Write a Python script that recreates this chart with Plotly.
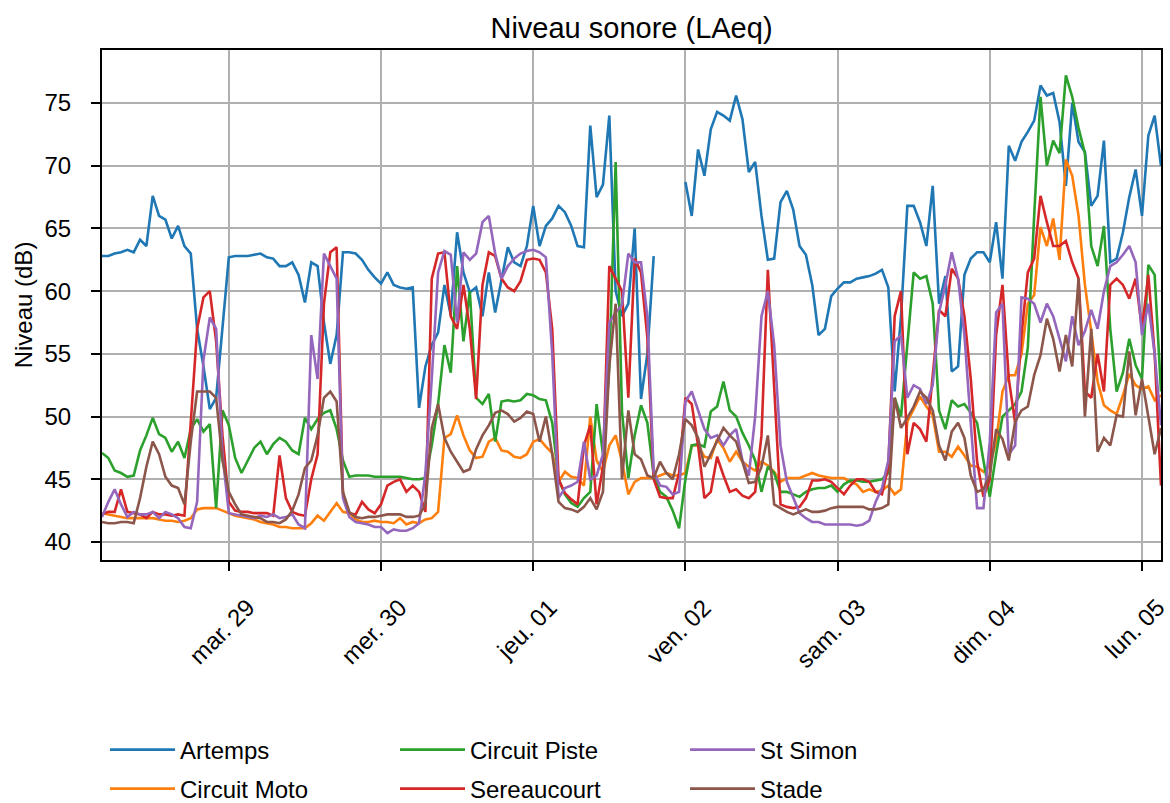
import pandas as pd
import plotly.graph_objects as go

# ---------------- data (hourly LAeq, dB) ----------------
START = "2020-09-28 04:00"
N_HOURS = 168

ARTEMPS = [
    62.8, 62.8, 63.0, 63.1, 63.3, 63.1, 64.1, 63.6, 67.6, 66.0, 65.7, 64.2, 65.2, 63.6, 63.0, 57.0, 54.0, 50.6, 51.5, 57.0, 62.7, 62.8, 62.8, 62.8,
    62.9, 63.0, 62.7, 62.6, 62.0, 62.0, 62.3, 61.3, 59.1, 62.3, 62.0, 57.5, 54.2, 56.5, 63.1, 63.1, 63.0, 62.5, 61.7, 61.1, 60.6, 61.5, 60.5, 60.3,
    60.2, 60.3, 50.7, 54.0, 55.7, 56.7, 60.5, 58.1, 64.7, 61.5, 59.9, 60.3, 58.0, 61.5, 58.3, 61.0, 63.5, 62.3, 62.0, 63.6, 66.8, 63.6, 65.2, 65.8,
    66.8, 66.3, 65.2, 63.6, 63.5, 73.2, 67.5, 68.5, 74.0, 60.0, 58.0, 59.0, 65.0, 51.4, 55.0, 62.8, None, None, None, None, 68.7, 66.0, 71.3, 69.2,
    72.9, 74.3, 74.0, 73.6, 75.6, 73.7, 69.5, 70.3, 66.0, 62.5, 62.6, 67.1, 68.0, 66.5, 63.6, 62.9, 60.5, 56.5, 57.0, 59.6, 60.2, 60.7, 60.7, 61.0,
    61.1, 61.2, 61.4, 61.7, 60.3, 52.0, 58.0, 66.8, 66.8, 65.5, 63.6, 68.4, 59.0, 61.2, 53.6, 54.0, 61.3, 62.6, 63.1, 63.1, 62.3, 65.5, 61.0, 71.6,
    70.4, 71.9, 72.7, 73.6, 76.4, 75.6, 75.8, 73.5, 68.4, 75.0, 71.9, 71.1, 66.8, 67.6, 72.0, 62.3, 62.6, 64.7, 67.5, 69.7, 66.0, 72.4, 74.0, 70.0,
]

CIRCUIT_MOTO = [
    42.3, 42.2, 42.1, 42.0, 41.9, 41.9, 41.9, 41.9, 41.9, 41.8, 41.7, 41.7, 41.6, 41.7, 41.9, 42.6, 42.7, 42.7, 42.7, 42.5, 42.3, 42.1, 42.0, 41.9,
    41.8, 41.6, 41.5, 41.4, 41.2, 41.2, 41.1, 41.1, 41.1, 41.5, 42.1, 41.7, 42.4, 43.1, 42.4, 42.3, 41.8, 41.6, 41.6, 41.7, 41.6, 41.6, 41.5, 41.9,
    41.4, 41.6, 41.5, 41.8, 41.9, 42.4, 48.3, 48.6, 50.1, 48.5, 47.3, 46.7, 46.8, 48.0, 48.3, 47.3, 47.2, 46.8, 46.7, 47.0, 48.0, 48.2, 47.6, 47.1,
    44.8, 45.6, 45.2, 45.1, 44.5, 50.0, 46.5, 45.6, 47.7, 48.5, 46.4, 43.8, 44.8, 45.1, 45.1, 45.1, 45.3, 45.5, 45.3, 45.3, 45.5, 47.7, 47.7, 46.8,
    46.7, 48.2, 47.5, 46.4, 47.2, 46.4, 46.0, 45.7, 46.4, 46.1, 45.6, 44.8, 45.1, 45.1, 45.1, 45.3, 45.5, 45.3, 45.2, 45.1, 45.1, 45.1, 44.8, 44.6,
    44.0, 44.2, 44.0, 44.1, 44.5, 43.8, 44.2, 49.6, 50.6, 51.6, 50.8, 50.1, 47.2, 47.2, 46.8, 47.6, 46.9, 46.1, 46.0, 45.6, 46.1, 48.0, 52.0, 53.3,
    53.3, 55.0, 59.0, 59.7, 65.1, 63.6, 65.8, 62.5, 70.5, 69.2, 66.0, 60.5, 56.8, 52.8, 50.9, 50.5, 50.2, 51.7, 53.4, 52.5, 52.2, 52.4, 51.3, 51.7,
]

CIRCUIT_PISTE = [
    47.1, 46.7, 45.7, 45.5, 45.2, 45.3, 47.3, 48.5, 49.9, 48.6, 48.3, 47.2, 48.0, 46.7, 49.0, 49.8, 48.8, 49.4, 42.7, 50.5, 49.3, 46.7, 45.5, 46.5,
    47.5, 48.0, 47.0, 47.8, 48.3, 48.0, 47.3, 47.0, 49.9, 49.0, 49.8, 50.3, 50.5, 49.0, 46.5, 45.2, 45.3, 45.3, 45.3, 45.2, 45.2, 45.2, 45.2, 45.2,
    45.1, 45.0, 45.0, 45.1, 47.7, 51.0, 55.7, 53.5, 62.0, 56.0, 60.0, 51.5, 51.0, 51.8, 48.0, 51.2, 51.3, 51.2, 51.3, 51.8, 51.7, 51.4, 51.3, 49.5,
    45.0, 43.8, 43.1, 42.8, 43.5, 44.0, 51.0, 47.0, 54.0, 70.3, 50.4, 45.1, 48.5, 50.9, 49.5, 45.3, 44.0, 43.6, 42.5, 41.1, 45.0, 47.7, 47.8, 47.6,
    50.4, 50.8, 52.8, 50.5, 50.0, 48.7, 47.7, 46.5, 44.0, 46.0, 45.5, 44.0, 44.0, 43.8, 43.6, 44.0, 44.2, 44.3, 44.3, 44.5, 44.0, 44.6, 44.9, 44.9,
    44.8, 44.8, 44.9, 45.0, 45.5, 51.5, 50.0, 56.0, 61.5, 61.0, 61.2, 59.0, 50.5, 49.0, 51.3, 50.8, 51.0, 50.3, 49.5, 46.5, 43.6, 47.0, 50.0, 50.5,
    51.0, 52.0, 55.5, 66.0, 75.5, 70.0, 72.0, 71.0, 77.2, 75.5, 73.0, 71.0, 63.6, 62.0, 65.2, 57.0, 52.0, 53.5, 56.2, 54.1, 53.0, 62.1, 61.3, 52.0,
]

SEREAUCOURT = [
    42.2, 42.4, 42.4, 44.2, 42.4, 42.3, 42.2, 41.9, 42.4, 42.2, 42.2, 42.1, 42.2, 42.1, 50.0, 57.0, 59.5, 60.0, 56.0, 48.5, 43.2, 42.5, 42.4, 42.4,
    42.3, 42.3, 42.3, 42.1, 46.9, 43.5, 42.4, 42.2, 42.1, 45.0, 47.0, 59.0, 63.1, 63.5, 43.8, 42.3, 42.2, 43.2, 42.6, 42.3, 43.0, 44.5, 44.8, 45.0,
    44.0, 44.5, 44.0, 42.4, 61.0, 63.0, 63.1, 58.0, 57.0, 60.5, 57.0, 51.4, 60.5, 63.1, 62.8, 61.0, 60.3, 60.0, 60.8, 62.5, 62.6, 62.5, 61.5, 57.0,
    45.0, 43.9, 43.4, 43.0, 47.7, 49.3, 43.0, 46.0, 62.0, 61.0, 60.0, 51.5, 62.6, 61.5, 56.3, 45.0, 43.6, 43.5, 43.5, 45.5, 51.5, 51.0, 47.7, 43.5,
    44.0, 46.8, 45.3, 44.0, 44.2, 43.7, 43.5, 44.0, 48.5, 61.7, 52.0, 43.0, 42.8, 42.7, 42.8, 43.5, 44.9, 44.9, 45.0, 44.8, 44.3, 43.8, 44.5, 45.0,
    45.0, 44.8, 44.0, 43.8, 46.0, 58.0, 60.0, 47.0, 49.5, 49.0, 48.0, 53.0, 58.5, 58.0, 61.8, 61.0, 58.0, 53.0, 46.4, 43.6, 45.0, 56.5, 60.5, 53.0,
    49.5, 56.5, 61.5, 62.6, 67.6, 65.5, 63.6, 63.6, 64.0, 62.3, 61.0, 52.0, 51.5, 55.0, 52.0, 60.5, 61.0, 60.5, 59.4, 61.0, 57.0, 61.3, 55.0, 44.5,
]

ST_SIMON = [
    42.0, 43.2, 44.2, 43.0, 42.0, 42.4, 42.2, 42.2, 42.4, 41.9, 42.4, 42.2, 41.9, 41.2, 41.1, 43.2, 54.5, 57.9, 57.0, 47.0, 42.3, 42.2, 42.1, 42.0,
    41.9, 42.1, 42.0, 42.2, 41.9, 42.0, 42.2, 41.4, 41.1, 56.5, 53.0, 63.0, 62.0, 61.0, 43.5, 42.0, 41.6, 41.5, 41.4, 41.2, 41.2, 40.7, 41.0, 40.9,
    40.9, 41.1, 41.5, 45.5, 53.0, 61.5, 63.2, 62.9, 57.5, 63.1, 62.5, 63.0, 65.5, 66.0, 63.0, 61.0, 62.0, 62.6, 63.0, 63.2, 63.3, 63.1, 62.7, 55.0,
    43.5, 44.3, 44.5, 44.8, 48.0, 45.0, 45.3, 47.0, 57.5, 58.3, 58.9, 63.0, 62.3, 62.3, 58.0, 45.6, 44.5, 44.4, 43.8, 44.0, 51.2, 52.0, 50.5, 49.0,
    48.3, 48.5, 47.7, 48.5, 49.0, 46.5, 45.3, 50.0, 58.0, 60.0, 55.7, 47.7, 44.8, 43.5, 42.3, 41.9, 41.6, 41.6, 41.4, 41.4, 41.4, 41.4, 41.4, 41.3,
    41.4, 41.7, 43.2, 44.3, 46.5, 56.0, 56.5, 51.5, 52.5, 52.2, 51.0, 52.5, 58.3, 60.5, 63.1, 61.0, 56.5, 49.5, 42.7, 42.7, 48.0, 58.3, 59.0, 47.0,
    47.7, 59.5, 59.4, 59.0, 57.5, 59.0, 58.0, 56.2, 54.4, 58.0, 55.7, 56.8, 58.5, 57.0, 60.0, 62.0, 62.3, 62.9, 63.6, 62.3, 56.5, 59.0, 55.0, 49.3,
]

STADE = [
    41.6, 41.5, 41.5, 41.6, 41.6, 41.5, 43.5, 46.0, 48.0, 47.0, 45.2, 44.5, 44.3, 43.0, 48.0, 52.0, 52.0, 52.0, 51.5, 46.5, 44.0, 43.0, 42.2, 42.1,
    42.0, 41.9, 41.6, 41.6, 41.5, 41.8, 42.5, 43.8, 45.9, 46.5, 48.5, 51.5, 52.0, 51.2, 44.0, 42.4, 42.0, 41.9, 42.0, 42.0, 42.1, 42.2, 42.2, 42.2,
    42.0, 42.0, 42.1, 43.0, 49.1, 51.0, 48.3, 47.2, 46.4, 45.6, 45.8, 47.4, 48.5, 49.3, 50.3, 50.5, 50.2, 49.6, 49.9, 50.4, 50.2, 48.0, 50.0, 47.0,
    43.2, 42.7, 42.6, 42.4, 42.8, 43.5, 42.6, 44.0, 54.0, 59.0, 45.0, 50.5, 47.0, 46.6, 45.3, 45.1, 46.4, 45.5, 45.0, 47.0, 49.8, 49.3, 48.3, 46.0,
    47.0, 48.0, 49.1, 48.5, 48.0, 46.4, 44.7, 44.8, 46.0, 48.5, 43.0, 42.7, 42.4, 42.2, 42.4, 42.6, 42.4, 42.4, 42.5, 42.7, 42.8, 42.8, 42.8, 42.8,
    42.8, 42.6, 42.6, 42.7, 43.0, 51.5, 49.1, 49.9, 50.8, 52.0, 51.5, 50.5, 47.7, 46.5, 48.8, 49.5, 48.3, 45.3, 44.0, 44.2, 45.3, 49.0, 48.2, 46.5,
    49.6, 50.5, 50.8, 53.3, 54.9, 57.8, 56.2, 53.6, 56.5, 54.0, 61.0, 50.0, 57.0, 47.2, 48.3, 47.7, 50.1, 50.0, 55.2, 50.1, 53.0, 50.0, 47.0, 49.1,
]

SERIES_NAMES = ["Artemps", "Circuit Moto", "Circuit Piste", "Sereaucourt", "St Simon", "Stade"]
SERIES_VALUES = [ARTEMPS, CIRCUIT_MOTO, CIRCUIT_PISTE, SEREAUCOURT, ST_SIMON, STADE]

TICK_DATES = ["2020-09-29", "2020-09-30", "2020-10-01", "2020-10-02",
              "2020-10-03", "2020-10-04", "2020-10-05"]
TICK_LABELS = ["mar. 29", "mer. 30", "jeu. 01", "ven. 02", "sam. 03", "dim. 04", "lun. 05"]
Y_TICKS = [40, 45, 50, 55, 60, 65, 70, 75]

# ---------------- style ----------------
COLORS = ["#1f77b4", "#ff7f0e", "#2ca02c", "#d62728", "#9467bd", "#8c564b"]
LEGEND_ROW = ["legend", "legend2", "legend", "legend2", "legend", "legend2"]
FONT = "Liberation Sans"

for v in SERIES_VALUES:
    assert len(v) == N_HOURS, len(v)

times = pd.date_range(START, periods=N_HOURS, freq="h")

fig = go.Figure()
for name, vals, col, leg in zip(SERIES_NAMES, SERIES_VALUES, COLORS, LEGEND_ROW):
    fig.add_trace(go.Scatter(
        x=times, y=vals, mode="lines", name=name,
        line=dict(color=col, width=2.6),
        legend=leg, connectgaps=False,
    ))

W, H = 1170, 803
L, R, T, B = 102, 9, 50, 243
plot_w = W - L - R
plot_h = H - T - B


def legend_cfg(row_px):
    return dict(
        orientation="h",
        x=(105 - L) / plot_w, xanchor="left",
        y=(H - B - row_px) / plot_h, yanchor="middle",
        entrywidth=210, entrywidthmode="pixels",
        itemwidth=65,
        font=dict(family=FONT, size=24, color="black"),
        bgcolor="rgba(0,0,0,0)",
    )


axis_common = dict(
    showgrid=True, gridcolor="#b0b0b0", gridwidth=1.6,
    showline=True, linecolor="black", linewidth=2, mirror=True,
    ticks="outside", ticklen=9, tickwidth=2, tickcolor="black",
    tickfont=dict(family=FONT, size=24, color="black"),
    zeroline=False, automargin=False,
)

# rotated date labels, centred under each tick like the original
x_label_annotations = [
    dict(x=d, y=0, xref="x", yref="paper", text=t, showarrow=False,
         textangle=-45, xanchor="center", yanchor="top",
         xshift=-7, yshift=-31,
         font=dict(family=FONT, size=24, color="black"))
    for d, t in zip(TICK_DATES, TICK_LABELS)
]

fig.update_layout(
    width=W, height=H,
    margin=dict(l=L, r=R, t=T, b=B, autoexpand=False),
    paper_bgcolor="white", plot_bgcolor="white",
    font=dict(family=FONT, size=24, color="black"),
    title=dict(text="Niveau sonore (LAeq)", x=0.5, xref="paper", xanchor="center",
               y=1 - 28 / H, yref="container", yanchor="middle",
               font=dict(family=FONT, size=29, color="black")),
    showlegend=True,
    legend=legend_cfg(750),
    legend2=legend_cfg(789),
    annotations=x_label_annotations,
    xaxis=dict(
        type="date", range=[times[0], times[-1]],
        tickmode="array", tickvals=TICK_DATES, ticktext=TICK_LABELS,
        showticklabels=False,
        **axis_common,
    ),
    yaxis=dict(
        range=[38.565, 79.23],
        tickmode="array", tickvals=Y_TICKS,
        ticklabelstandoff=15,
        title=dict(text="Niveau (dB)", font=dict(family=FONT, size=24, color="black"), standoff=5),
        **axis_common,
    ),
)

fig.write_html(
    "out.html",
    config={"displayModeBar": False},
    post_script="document.body.style.margin='0px';document.body.style.overflow='hidden';",
)
